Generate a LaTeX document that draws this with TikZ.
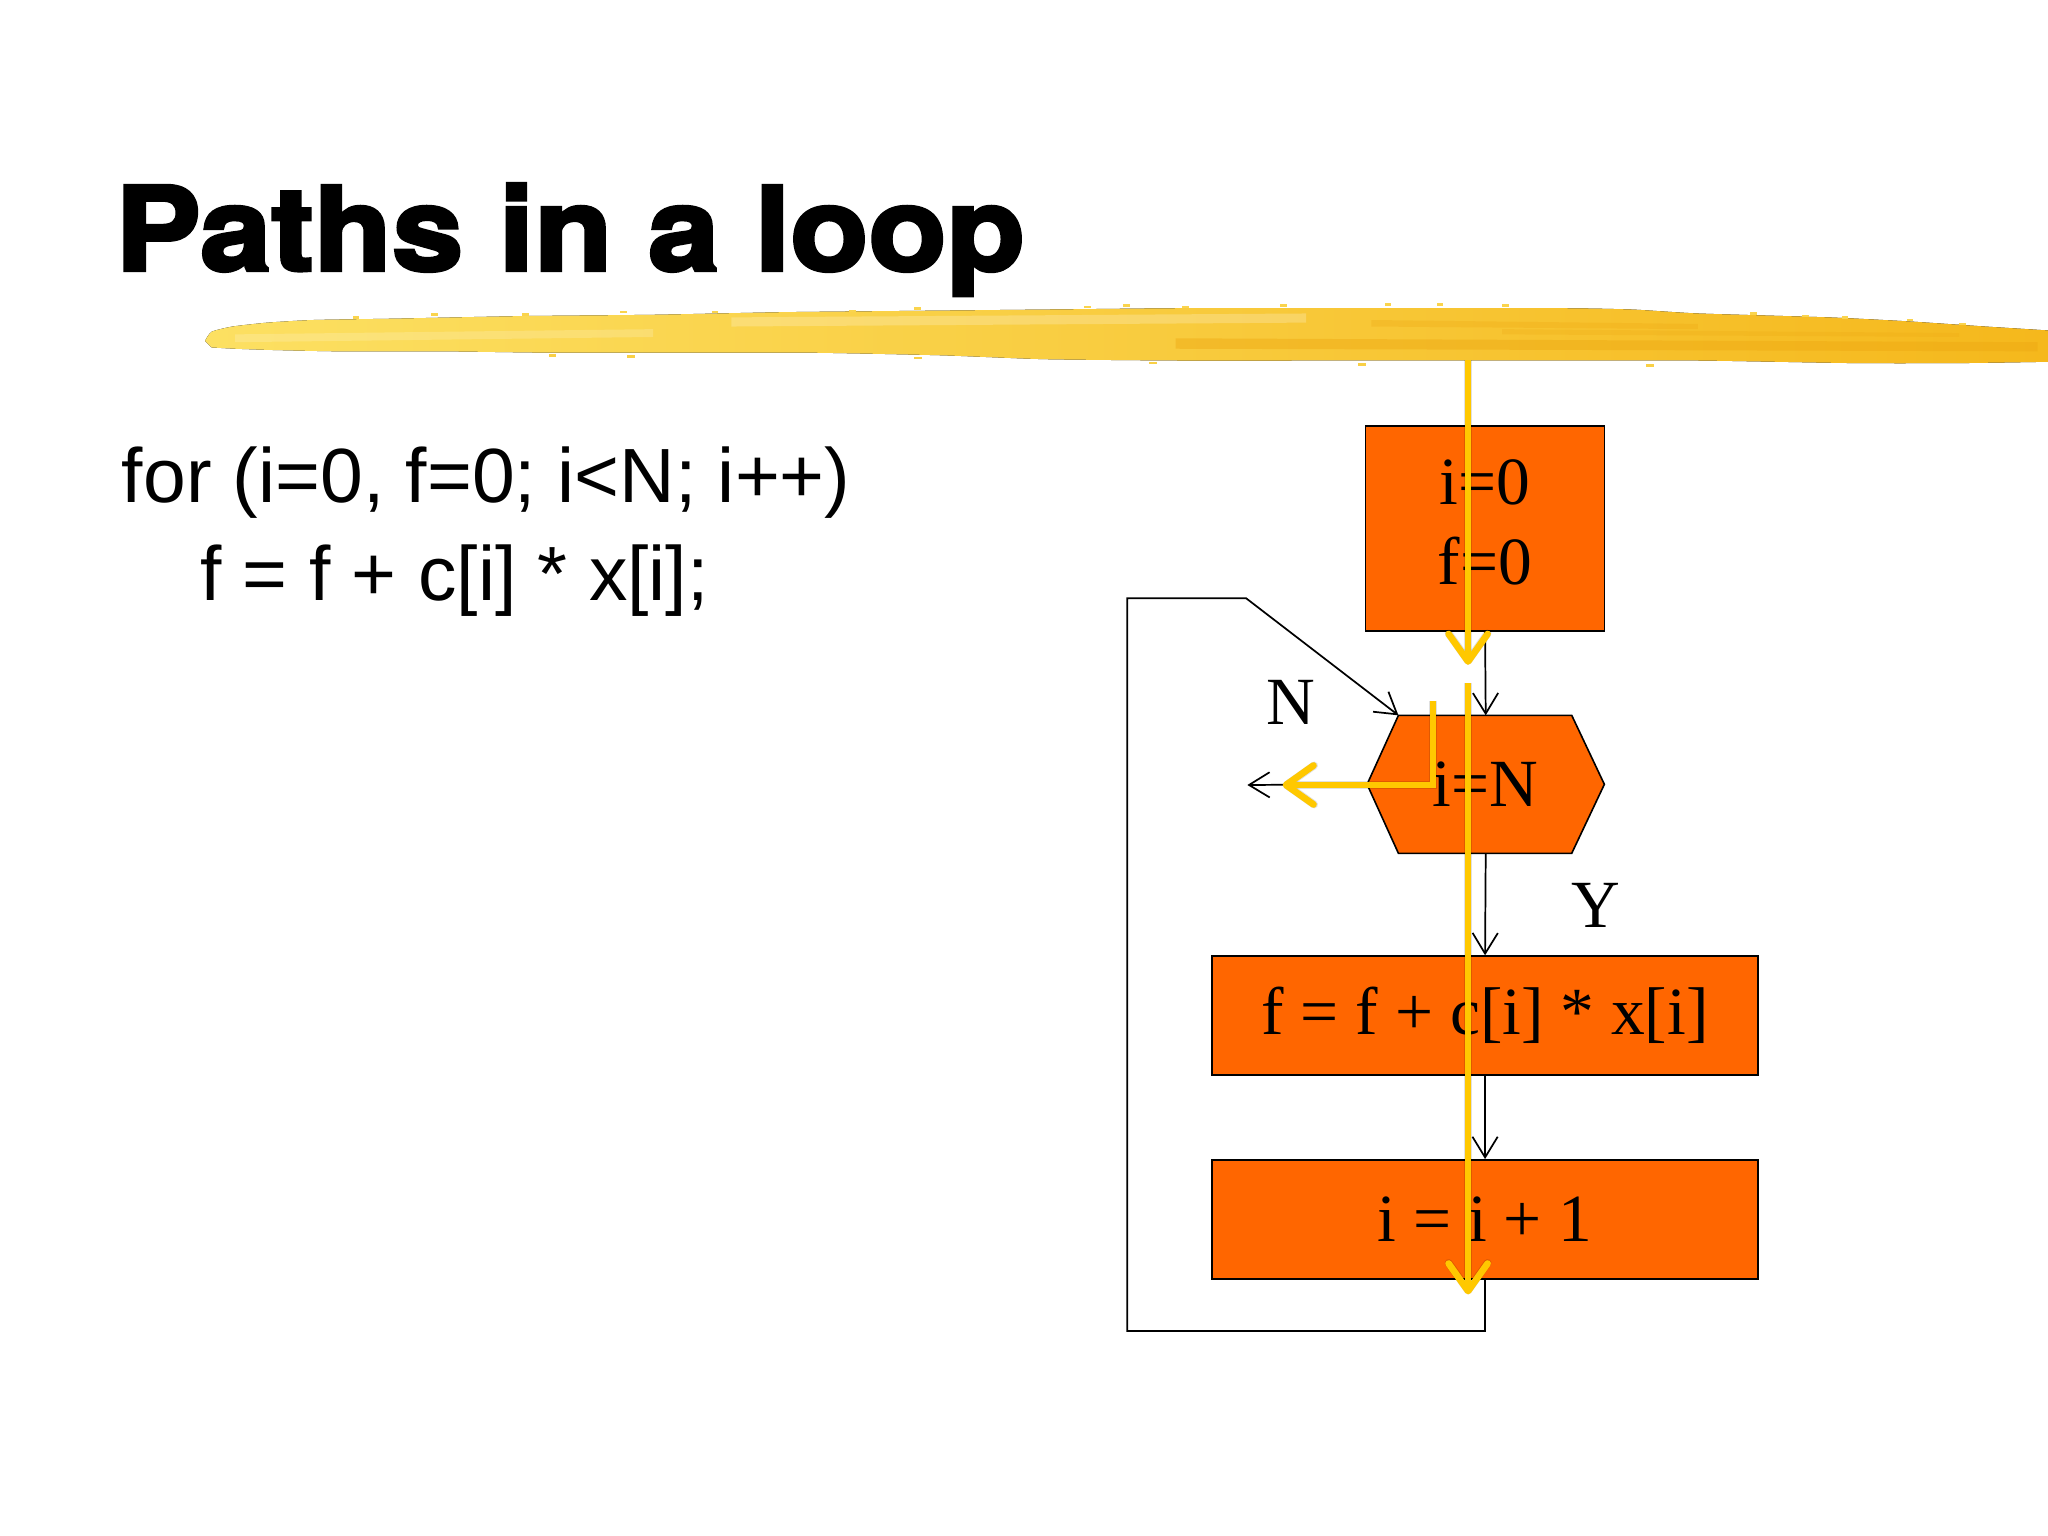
\documentclass[tikz,border=0pt]{standalone}
\usepackage{fontspec}
\setmainfont{Liberation Serif}
\newfontfamily\titlefont[FakeStretch=1.1,BoldFeatures={FakeBold=3}]{TeX Gyre Heros}
\newfontfamily\codefont{Liberation Sans}
\usetikzlibrary{arrows.meta,calc}
\definecolor{boxorange}{HTML}{FF6600}
\definecolor{arrowyellow}{HTML}{FFC800}
\definecolor{brushL}{HTML}{FCE062}
\definecolor{brushR}{HTML}{F5B81C}
\definecolor{brushD}{HTML}{EEA812}
\pgfdeclarelayer{background}
\pgfsetlayers{background,main}
\tikzset{
  flowbox/.style={draw=black, line width=0.7pt, fill=boxorange, inner sep=0pt,
    font=\fontsize{29.4}{35}\selectfont, align=center},
  hexbox/.style={inner sep=0pt, font=\fontsize{29.4}{35}\selectfont},
  flowlabel/.style={inner sep=0pt, font=\fontsize{29.4}{35}\selectfont},
  blk/.style={draw=black, line width=0.75pt, -{Straight Barb[length=9pt,width=11pt]}},
  yel/.style={draw=arrowyellow, line width=2.9pt, -{Straight Barb[length=12pt,width=17pt,round]}},
  yelshadow/.style={draw=black, opacity=0.12, line width=3.4pt, -{Straight Barb[length=12pt,width=17pt,round]}},
  codetext/.style={inner sep=0pt, anchor=base west, font=\codefont\fontsize{33.5}{40}\selectfont},
}
\begin{document}
\begin{tikzpicture}[x=0.02cm,y=-0.02cm]
\begin{pgfonlayer}{background}
\fill[white] (0,0) rectangle (1568,1176);
\end{pgfonlayer}
\useasboundingbox (0,0) rectangle (1568,1176);

% title
\node[inner sep=0pt, anchor=base west, font=\titlefont\bfseries\fontsize{50.7}{60}\selectfont] (title) at (88,207) {Paths in a loop};

% brush stroke
\fill[left color=brushL, right color=brushR]
  plot[smooth, tension=0.35] coordinates {(157,261) (162,254) (178,250) (205,247) (240,245) (300,244) (400,242) (500,241) (600,239) (700,238) (800,237) (900,236) (1000,236) (1100,236) (1200,236) (1250,237) (1300,240) (1400,243) (1460,246) (1520,250) (1568,253)}
  -- plot[smooth, tension=0.35] coordinates {(1568,277) (1500,278) (1420,278) (1300,276) (1200,276) (1100,276) (1000,276) (900,276) (800,275) (720,272) (620,270) (520,270) (420,270) (340,269) (260,269) (210,268) (180,267) (162,266)}
  -- cycle;
\fill[white, opacity=0.22] (560,243) -- (1000,240) -- (1000,247) -- (560,250) -- cycle;
\fill[white, opacity=0.18] (180,256) -- (500,252) -- (500,258) -- (180,262) -- cycle;
\fill[brushD, opacity=0.45] (900,259) -- (1560,262) -- (1560,269) -- (900,267) -- cycle;
\fill[brushD, opacity=0.3] (1050,245) -- (1300,248) -- (1300,252) -- (1050,250) -- cycle;
\fill[brushD, opacity=0.25] (1150,252) -- (1500,255) -- (1500,258) -- (1150,256) -- cycle;
\foreach \sx/\sy in {270/242, 330/240, 400/240, 475/238, 545/238, 650/237, 700/235, 830/234, 860/233, 905/234, 980/233, 1060/232, 1100/232, 1150/233, 1340/239, 1380/241, 1410/242, 1460/244, 1500/247}
  \fill[brushL!70!brushR] (\sx,\sy) rectangle ++(5,2);
\foreach \sx/\sy in {420/271, 480/272, 700/273, 880/277, 1040/278, 1260/279}
  \fill[brushL!60!brushR] (\sx,\sy) rectangle ++(6,2);

% code
\node[codetext] (code1) at (93,385) {for (i=0, f=0; i<N; i++)};
\node[codetext] (code2) at (153,460) {f = f + c[i] * x[i];};

% flowchart nodes
\node[flowbox, minimum width=3.66cm, minimum height=3.14cm] (box1) at (1137,404.5) {};
\node[flowlabel, align=center] (box1txt) at (1137,400) {i=0\\f=0};
\node[hexbox, minimum width=3.62cm, minimum height=2.10cm] (hex) at (1137.5,600.5) {i=N};
\node[flowbox, minimum width=8.36cm, minimum height=1.82cm] (box3) at (1137,777.5) {f = f + c[i] * x[i]};
\node[flowbox, minimum width=8.36cm, minimum height=1.82cm] (box4) at (1137,933.5) {i = i + 1};

\begin{pgfonlayer}{background}
\filldraw[fill=boxorange, draw=black, line width=0.7pt]
  (hex.west) -- ($(hex.north west)+(24,0)$) -- ($(hex.north east)+(-25,0)$)
  -- (hex.east) -- ($(hex.south east)+(-25,0)$) -- ($(hex.south west)+(24,0)$) -- cycle;
\end{pgfonlayer}

\coordinate (hextl) at ($(hex.north west)+(24,0)$);
\coordinate (loopbot) at (863,1019);
\coordinate (looptop) at (863,458);
\coordinate (loopbend) at (954,458);
\coordinate (exitend) at (955,601);

% labels
\node[flowlabel] (lblN) at (988,538) {N};
\node[flowlabel] (lblY) at (1222,693) {Y};

% black connectors
\draw[blk] (box1.south) -- (hex.north);
\draw[blk] (hex.south) -- (box3.north);
\draw[blk] (box3.south) -- (box4.north);
\draw[blk] (box4.south) |- (loopbot) -- (looptop) -- (loopbend) -- (hextl);
\draw[blk] (hex.west) -- (exitend);

% yellow path overlays
\coordinate (ya0) at (1124,276);
\coordinate (ya1) at (1124,509);
\coordinate (yb0) at (1124,523);
\coordinate (yb1) at (1124,991);
\coordinate (yc0) at (1097,537);
\coordinate (yc1) at (1097,601);
\coordinate (yc2) at (982,601);
\begin{scope}[shift={(2,3)}]
\draw[yelshadow] (ya0) -- (ya1);
\draw[yelshadow] (yb0) -- (yb1);
\draw[yelshadow] (yc0) -- (yc1) -- (yc2);
\end{scope}
\draw[yel] (ya0) -- (ya1);
\draw[yel] (yb0) -- (yb1);
\draw[yel] (yc0) -- (yc1) -- (yc2);
\end{tikzpicture}
\end{document}
